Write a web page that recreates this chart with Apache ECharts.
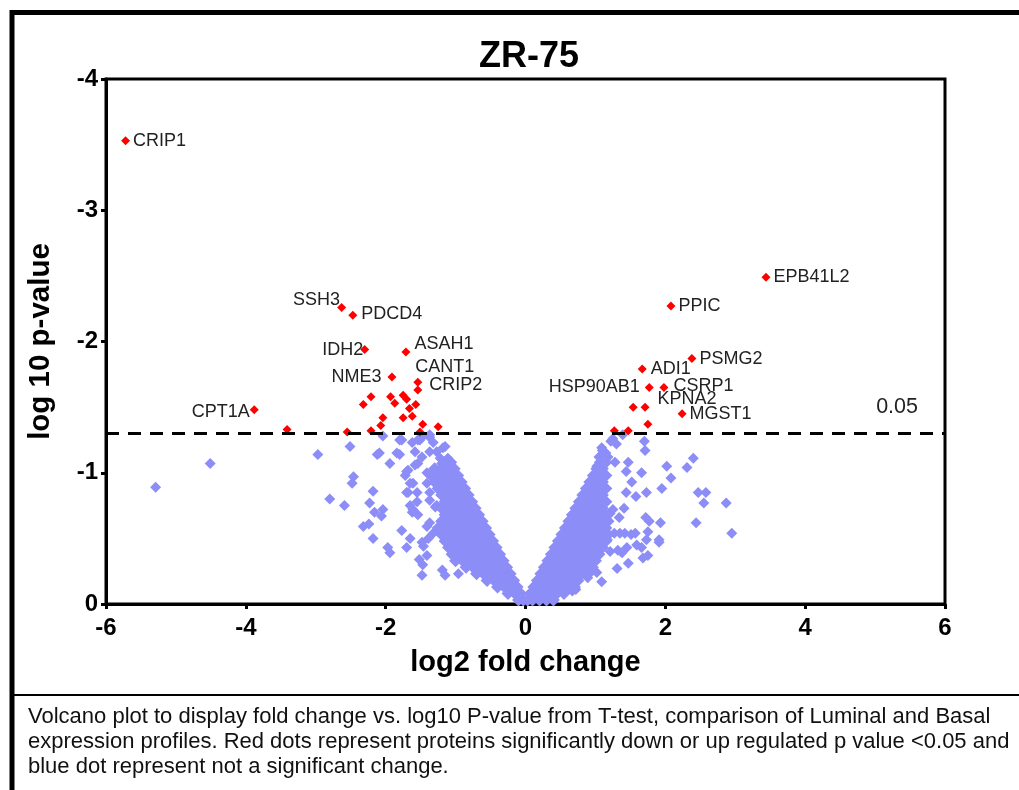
<!DOCTYPE html>
<html>
<head>
<meta charset="utf-8">
<script src="https://cdn.jsdelivr.net/npm/echarts@6.0.0/dist/echarts.min.js"></script>
<style>html,body{margin:0;padding:0;background:#fff}#c{width:1019px;height:790px}</style>
</head>
<body>
<div id="c"></div>
<script>
// ---------- DATA ----------
const chartTitle = 'ZR-75';
const xTicks = [-6, -4, -2, 0, 2, 4, 6];
const yTicks = [-4, -3, -2, -1, 0];
const threshold = -1.301; // log10(0.05)
const thresholdLabel = '0.05';

const labeledGenes = ['CRIP1','SSH3','PDCD4','IDH2','ASAH1','NME3','CANT1','CRIP2','CPT1A',
  'EPB41L2','PPIC','PSMG2','ADI1','HSP90AB1','CSRP1','KPNA2','MGST1'];
const labeledFC = [-5.72,-2.63,-2.47,-2.30,-1.71,-1.91,-1.54,-1.54,-3.88,
  3.44,2.08,2.38,1.67,1.77,1.98,1.71,2.24];
const labeledP = [-3.53,-2.26,-2.20,-1.94,-1.92,-1.73,-1.69,-1.63,-1.48,
  -2.49,-2.27,-1.87,-1.79,-1.65,-1.65,-1.50,-1.45];

const otherRed = [[-3.41,-1.33],[-2.55,-1.31],[-2.32,-1.52],[-2.21,-1.58],[-2.21,-1.32],[-2.07,-1.36],
  [-2.04,-1.42],[-1.93,-1.58],[-1.87,-1.53],[-1.75,-1.59],[-1.75,-1.42],[-1.70,-1.56],[-1.66,-1.49],
  [-1.62,-1.43],[-1.57,-1.52],[-1.47,-1.37],[-1.51,-1.31],[-1.25,-1.35],
  [1.54,-1.50],[1.75,-1.37],[1.27,-1.32],[1.47,-1.32]];

const blueLeftSparse = [[-5.29,-0.89],[-4.51,-1.07],[-2.97,-1.14],[-2.51,-1.20],[-2.80,-0.80],[-2.59,-0.75],
  [-2.48,-0.92],[-2.46,-0.97],[-2.18,-0.86],[-2.23,-0.77],[-2.16,-0.70],[-2.04,-0.72],[-2.06,-0.67],
  [-2.32,-0.59],[-2.24,-0.61],[-2.18,-0.50],[-1.97,-0.43],[-1.94,-0.39],[-1.77,-0.56],[-1.65,-0.50],
  [-1.70,-0.43],[-1.48,-0.22],[-1.52,-0.34],[-1.47,-0.30],[-1.19,-0.26],[-1.15,-0.22],[-0.96,-0.23],
  [-1.39,-0.50],[-1.46,-0.44],[-1.41,-0.59],[-1.48,-0.47],[-1.41,-0.37],
  [-2.12,-1.14],[-2.09,-1.15],[-2.04,-1.28],[-1.94,-1.07],[-1.80,-1.25],[-1.84,-1.15],[-1.80,-1.14],
  [-1.68,-1.02],[-1.72,-0.98],[-1.61,-0.92],[-1.68,-0.85],[-1.55,-0.85],[-1.65,-0.75],[-1.55,-0.78],
  [-1.61,-0.72],[-1.54,-0.68],[-1.62,-0.70],[-1.58,-1.16],[-1.54,-1.07],[-1.48,-1.12],[-1.37,-1.16],
  [-1.32,-1.23],[-1.51,-1.25],[-1.37,-1.27],[-1.27,-1.16],[-1.22,-1.11],[-1.18,-1.19],[-1.11,-1.11],
  [-1.41,-1.00],[-1.41,-0.92],[-1.37,-0.85],[-1.29,-0.74],[-1.37,-0.62],[-1.32,-0.54],[-1.77,-1.25],
  [-1.62,-1.23],[-1.54,-1.25],[-1.48,-1.27],[-1.37,-1.29],[-1.15,-1.20],[-1.08,-1.07],[-1.65,-0.92],
  [-1.70,-0.85],[-1.70,-1.01],[-1.58,-1.06],[-1.27,-0.75],[-1.37,-0.79],[-1.10,-1.07],[-1.20,-1.07]];

const blueLeftDense = [
  [-0.10,-0.03],[-0.03,-0.03],
  [-0.25,-0.08],[-0.15,-0.08],[-0.07,-0.08],
  [-0.40,-0.13],[-0.30,-0.13],[-0.20,-0.13],[-0.12,-0.13],
  [-0.55,-0.18],[-0.45,-0.18],[-0.35,-0.18],[-0.25,-0.18],[-0.17,-0.18],
  [-0.70,-0.23],[-0.60,-0.23],[-0.50,-0.23],[-0.40,-0.23],[-0.30,-0.23],[-0.22,-0.23],
  [-0.85,-0.28],[-0.75,-0.28],[-0.65,-0.28],[-0.55,-0.28],[-0.45,-0.28],[-0.35,-0.28],[-0.27,-0.28],
  [-1.00,-0.33],[-0.90,-0.33],[-0.80,-0.33],[-0.70,-0.33],[-0.60,-0.33],[-0.50,-0.33],[-0.40,-0.33],[-0.32,-0.33],
  [-1.05,-0.38],[-0.95,-0.38],[-0.85,-0.38],[-0.75,-0.38],[-0.65,-0.38],[-0.55,-0.38],[-0.45,-0.38],[-0.37,-0.38],
  [-1.10,-0.43],[-1.00,-0.43],[-0.90,-0.43],[-0.80,-0.43],[-0.70,-0.43],[-0.60,-0.43],[-0.50,-0.43],[-0.42,-0.43],
  [-1.15,-0.48],[-1.05,-0.48],[-0.95,-0.48],[-0.85,-0.48],[-0.75,-0.48],[-0.65,-0.48],[-0.55,-0.48],[-0.47,-0.48],
  [-1.20,-0.53],[-1.10,-0.53],[-1.00,-0.53],[-0.90,-0.53],[-0.80,-0.53],[-0.70,-0.53],[-0.60,-0.53],[-0.52,-0.53],
  [-1.25,-0.58],[-1.15,-0.58],[-1.05,-0.58],[-0.95,-0.58],[-0.85,-0.58],[-0.75,-0.58],[-0.65,-0.58],[-0.57,-0.58],
  [-1.20,-0.63],[-1.10,-0.63],[-1.00,-0.63],[-0.90,-0.63],[-0.80,-0.63],[-0.70,-0.63],[-0.62,-0.63],
  [-1.15,-0.68],[-1.05,-0.68],[-0.95,-0.68],[-0.85,-0.68],[-0.75,-0.68],[-0.67,-0.68],
  [-1.20,-0.73],[-1.10,-0.73],[-1.00,-0.73],[-0.90,-0.73],[-0.80,-0.73],[-0.72,-0.73],
  [-1.15,-0.78],[-1.05,-0.78],[-0.95,-0.78],[-0.85,-0.78],[-0.77,-0.78],
  [-1.20,-0.83],[-1.10,-0.83],[-1.00,-0.83],[-0.90,-0.83],[-0.82,-0.83],
  [-1.25,-0.88],[-1.15,-0.88],[-1.05,-0.88],[-0.95,-0.88],[-0.87,-0.88],
  [-1.30,-0.93],[-1.20,-0.93],[-1.10,-0.93],[-1.00,-0.93],[-0.92,-0.93],
  [-1.35,-0.98],[-1.25,-0.98],[-1.15,-0.98],[-1.05,-0.98],[-0.97,-0.98],
  [-1.30,-1.03],[-1.20,-1.03],[-1.10,-1.03],[-1.02,-1.03],
  [-1.15,-1.08],[-1.07,-1.08]];

const blueRightSparse = [[2.40,-1.11],[2.31,-1.04],[2.02,-1.05],[2.08,-0.96],[1.95,-0.88],[1.73,-0.85],
  [1.66,-1.00],[1.70,-1.24],[1.71,-1.17],[2.47,-0.85],[2.58,-0.85],[2.55,-0.77],[2.87,-0.77],[2.95,-0.54],
  [2.44,-0.62],[1.93,-0.62],[1.72,-0.66],[1.77,-0.63],[1.91,-0.49],[1.91,-0.47],[1.75,-0.55],[1.73,-0.49],
  [1.75,-0.37],[1.57,-0.54],[1.59,-0.45],[1.45,-0.43],[1.47,-0.31],[1.31,-0.27],[1.09,-0.17],[0.72,-0.11],
  [0.67,-0.10],[1.58,-0.82],[1.44,-0.85],[1.52,-0.93],[1.41,-0.73],[1.25,-0.72],[1.34,-0.66],[1.21,-0.69],
  [1.47,-1.08],[1.44,-1.01],[1.28,-1.08],[1.02,-1.05],[1.09,-1.19],[1.15,-1.15],[1.25,-1.26],[1.39,-1.29],
  [1.35,-0.54],[1.27,-0.54],[1.42,-0.54],[1.51,-0.53],[1.32,-0.41],[1.38,-0.39],[1.21,-0.40],[1.17,-0.49],
  [0.97,-0.28],[1.02,-0.24],[0.89,-0.20],[1.68,-0.35],[1.66,-0.43],[1.22,-1.24],[1.30,-1.22],
  [1.10,-1.17],[1.18,-1.12],[1.05,-1.12]];

const blueRightDense = [
  [0.03,-0.03],[0.10,-0.03],[0.20,-0.03],[0.30,-0.03],[0.40,-0.03],
  [0.07,-0.08],[0.15,-0.08],[0.25,-0.08],[0.35,-0.08],[0.45,-0.08],[0.55,-0.08],
  [0.12,-0.13],[0.20,-0.13],[0.30,-0.13],[0.40,-0.13],[0.50,-0.13],[0.60,-0.13],[0.70,-0.13],
  [0.17,-0.18],[0.25,-0.18],[0.35,-0.18],[0.45,-0.18],[0.55,-0.18],[0.65,-0.18],[0.75,-0.18],
  [0.22,-0.23],[0.30,-0.23],[0.40,-0.23],[0.50,-0.23],[0.60,-0.23],[0.70,-0.23],[0.80,-0.23],[0.90,-0.23],
  [0.27,-0.28],[0.35,-0.28],[0.45,-0.28],[0.55,-0.28],[0.65,-0.28],[0.75,-0.28],[0.85,-0.28],[0.95,-0.28],
  [0.32,-0.33],[0.40,-0.33],[0.50,-0.33],[0.60,-0.33],[0.70,-0.33],[0.80,-0.33],[0.90,-0.33],[1.00,-0.33],
  [0.37,-0.38],[0.45,-0.38],[0.55,-0.38],[0.65,-0.38],[0.75,-0.38],[0.85,-0.38],[0.95,-0.38],[1.05,-0.38],
  [0.42,-0.43],[0.50,-0.43],[0.60,-0.43],[0.70,-0.43],[0.80,-0.43],[0.90,-0.43],[1.00,-0.43],[1.10,-0.43],
  [0.47,-0.48],[0.55,-0.48],[0.65,-0.48],[0.75,-0.48],[0.85,-0.48],[0.95,-0.48],[1.05,-0.48],[1.15,-0.48],
  [0.52,-0.53],[0.60,-0.53],[0.70,-0.53],[0.80,-0.53],[0.90,-0.53],[1.00,-0.53],[1.10,-0.53],[1.18,-0.53],
  [0.57,-0.58],[0.65,-0.58],[0.75,-0.58],[0.85,-0.58],[0.95,-0.58],[1.05,-0.58],[1.15,-0.58],
  [0.62,-0.63],[0.70,-0.63],[0.80,-0.63],[0.90,-0.63],[1.00,-0.63],[1.10,-0.63],[1.18,-0.63],
  [0.67,-0.68],[0.75,-0.68],[0.85,-0.68],[0.95,-0.68],[1.05,-0.68],[1.15,-0.68],
  [0.72,-0.73],[0.80,-0.73],[0.90,-0.73],[1.00,-0.73],[1.10,-0.73],
  [0.77,-0.78],[0.85,-0.78],[0.95,-0.78],[1.05,-0.78],[1.15,-0.78],
  [0.82,-0.83],[0.90,-0.83],[1.00,-0.83],[1.10,-0.83],
  [0.87,-0.88],[0.95,-0.88],[1.05,-0.88],[1.15,-0.88],
  [0.92,-0.93],[1.00,-0.93],[1.10,-0.93],
  [0.97,-0.98],[1.05,-0.98],[1.15,-0.98],
  [1.02,-1.03],[1.10,-1.03],
  [1.07,-1.08],[1.15,-1.08]];

const captionLines = [
  'Volcano plot to display fold change vs. log10 P-value from T-test, comparison of Luminal and Basal',
  'expression profiles. Red dots represent proteins significantly down or up regulated p value <0.05 and',
  'blue dot represent not a significant change.'
];

// ---------- LABEL PLACEMENT (style, not data) ----------
const labelPlacement = {
  CRIP1:['right',[-2,0]], SSH3:['left',[8,-7]], PDCD4:['right',[-1,-1]], IDH2:['left',[8,1]],
  ASAH1:['right',[-1,-8]], NME3:['left',[-1,0]], CANT1:['right',[-12,-15]], CRIP2:['right',[2,-5]],
  CPT1A:['left',[5,2]], EPB41L2:['right',[-2,0]], PPIC:['right',[-2,0]], PSMG2:['right',[-2,0]],
  ADI1:['right',[-1,0]], HSP90AB1:['left',[0,0]], CSRP1:['right',[0,-1]], KPNA2:['right',[3,-8]],
  MGST1:['right',[-2,0]]
};

const FONT = '"Liberation Sans", Arial, sans-serif';
const BLUE = '#8d8df8';
const RED = '#ff0000';

const labeledData = labeledGenes.map((g, i) => ({
  name: g,
  value: [labeledFC[i], labeledP[i]],
  label: { show: true, formatter: g, position: labelPlacement[g][0], offset: labelPlacement[g][1] }
}));

const chart = echarts.init(document.getElementById('c'), null, { renderer: 'canvas' });
chart.setOption({
  animation: false,
  backgroundColor: '#fff',
  title: {
    text: chartTitle, left: 524, top: 34, textAlign: 'center',
    textStyle: { fontFamily: FONT, fontWeight: 'bold', fontSize: 36, color: '#000' }
  },
  grid: { left: 106, top: 79, right: 74, bottom: 186, show: true, borderColor: '#000', borderWidth: 3, containLabel: false },
  xAxis: {
    type: 'value', min: xTicks[0], max: xTicks[xTicks.length - 1], interval: 2,
    name: 'log2 fold change', nameLocation: 'middle', nameGap: 44,
    nameTextStyle: { fontFamily: FONT, fontWeight: 'bold', fontSize: 29, color: '#000' },
    axisLine: { show: true, onZero: false, lineStyle: { color: '#000', width: 3 } },
    axisTick: { show: true, inside: false, length: 5, lineStyle: { color: '#000', width: 3 } },
    axisLabel: { fontFamily: FONT, fontWeight: 'bold', fontSize: 24, color: '#000', margin: 12 },
    splitLine: { show: false }
  },
  yAxis: {
    type: 'value', min: yTicks[0], max: yTicks[yTicks.length - 1], interval: 1, inverse: true,
    name: 'log 10 p-value', nameLocation: 'middle', nameGap: 50, nameRotate: 90,
    nameTextStyle: { fontFamily: FONT, fontWeight: 'bold', fontSize: 29.5, color: '#000' },
    axisLine: { show: true, onZero: false, lineStyle: { color: '#000', width: 3 } },
    axisTick: { show: true, inside: false, length: 5, lineStyle: { color: '#000', width: 3 } },
    axisLabel: { fontFamily: FONT, fontWeight: 'bold', fontSize: 24, color: '#000', margin: 8 },
    splitLine: { show: false }
  },
  series: [
    {
      type: 'scatter', name: 'ns', symbol: 'diamond', symbolSize: 11,
      itemStyle: { color: BLUE, opacity: 1 },
      data: [].concat(blueLeftSparse, blueRightSparse),
      markLine: {
        silent: true, symbol: 'none',
        lineStyle: { type: [13, 9], color: '#000', width: 3 },
        label: { show: true, formatter: thresholdLabel, position: 'insideEndTop', distance: [27, 15],
          fontFamily: FONT, fontSize: 21.5, color: '#222' },
        data: [{ yAxis: threshold }]
      }
    },
    {
      type: 'scatter', name: 'nsDense', symbol: 'diamond', symbolSize: 13,
      itemStyle: { color: BLUE, opacity: 1 },
      data: [].concat(blueLeftDense, blueRightDense)
    },
    {
      type: 'scatter', name: 'sig', symbol: 'diamond', symbolSize: 9,
      itemStyle: { color: RED, opacity: 1 },
      data: otherRed
    },
    {
      type: 'scatter', name: 'sigLabeled', symbol: 'diamond', symbolSize: 9,
      itemStyle: { color: RED, opacity: 1 },
      label: { fontFamily: FONT, fontSize: 18, color: '#222' },
      data: labeledData
    }
  ],
  graphic: [
    { type: 'line', shape: { x1: 12, y1: 10, x2: 12, y2: 790 }, style: { stroke: '#000', lineWidth: 5 } },
    { type: 'line', shape: { x1: 10, y1: 12.5, x2: 1019, y2: 12.5 }, style: { stroke: '#000', lineWidth: 5 } },
    { type: 'line', shape: { x1: 12, y1: 695, x2: 1019, y2: 695 }, style: { stroke: '#000', lineWidth: 2 } },
    ...captionLines.map((t, i) => ({
      type: 'text', left: 28, top: 706 + i * 25,
      style: { text: t, fontFamily: FONT, fontSize: 22, fill: '#111' }
    }))
  ]
});
</script>
</body>
</html>
